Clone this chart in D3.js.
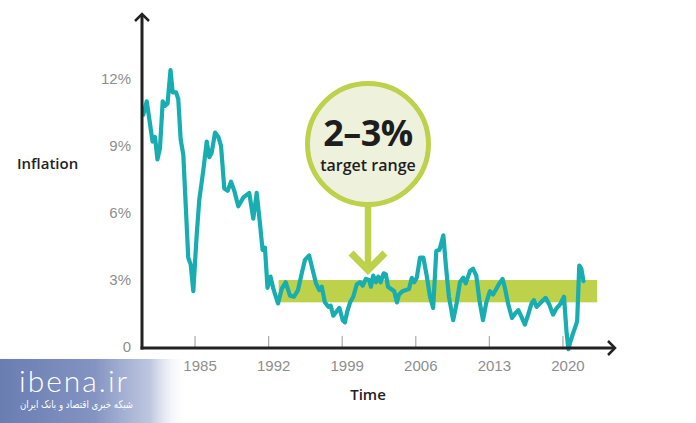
<!DOCTYPE html>
<html>
<head>
<meta charset="utf-8">
<script src="https://cdn.jsdelivr.net/npm/d3@7"></script>
<style>
  html, body { margin: 0; padding: 0; background: #fff; }
  svg { display: block; font-family: "Open Sans", "Noto Sans", sans-serif; }
  .tick-label { fill: #8e8e8e; font-size: 15px; }
  .axis-title { fill: #222; font-size: 15px; font-weight: 600; }
</style>
</head>
<body>
<svg id="chart"></svg>
<script>
// Inflation readings (decimal year, % y/y)
const years = [
  1980.12, 1980.45, 1980.76, 1981.0, 1981.24, 1981.47, 1981.71, 1981.97, 1982.19, 1982.43,
  1982.71, 1982.92, 1983.24, 1983.45, 1983.68, 1983.93, 1984.4, 1984.63, 1984.88, 1985.2,
  1985.45, 1985.83, 1986.16, 1986.4, 1986.63, 1986.95, 1987.27, 1987.52, 1987.83, 1988.15,
  1988.47, 1988.78, 1989.16, 1989.65, 1990.2, 1990.59, 1990.91, 1991.23, 1991.47, 1991.7,
  1991.94, 1992.23, 1992.5, 1992.7, 1992.94, 1993.29, 1993.67, 1994.08, 1994.46, 1994.84,
  1995.2, 1995.5, 1995.9, 1996.24, 1996.55, 1996.87, 1997.1, 1997.4, 1997.73, 1997.95,
  1998.2, 1998.52, 1998.77, 1999.1, 1999.3, 1999.53, 1999.8, 2000.1, 2000.43, 2000.74,
  2001.0, 2001.3, 2001.6, 2001.78, 2002.0, 2002.26, 2002.48, 2002.7, 2003.0, 2003.2,
  2003.4, 2003.7, 2004.0, 2004.25, 2004.45, 2004.8, 2005.1, 2005.4, 2005.67, 2005.9,
  2006.14, 2006.45, 2006.77, 2007.1, 2007.4, 2007.7, 2008.0, 2008.3, 2008.67, 2008.92,
  2009.2, 2009.6, 2009.93, 2010.25, 2010.56, 2010.8, 2011.2, 2011.5, 2011.8, 2012.1,
  2012.44, 2012.76, 2013.1, 2013.4, 2013.7, 2014.0, 2014.3, 2014.5, 2014.85, 2015.2,
  2015.5, 2015.8, 2016.1, 2016.43, 2016.74, 2017.06, 2017.28, 2017.54, 2017.85, 2018.17,
  2018.4, 2018.75, 2019.1, 2019.46, 2019.77, 2020.15, 2020.4, 2020.57, 2020.73, 2021.0,
  2021.4, 2021.6, 2021.8, 2022.0
];
const inflation = [
  10.4, 11.0, 10.0, 9.2, 9.4, 8.4, 8.9, 11.0, 10.8, 10.9,
  12.4, 11.4, 11.4, 11.1, 9.3, 8.6, 4.0, 3.7, 2.5, 5.0,
  6.6, 7.9, 9.2, 8.5, 8.7, 9.6, 9.4, 9.0, 7.1, 7.0,
  7.4, 7.0, 6.3, 6.7, 6.9, 5.75, 6.9, 5.5, 4.35, 4.45,
  2.65, 3.15, 2.6, 2.3, 1.95, 2.6, 2.9, 2.3, 2.25, 2.55,
  3.3, 3.9, 4.1, 3.45, 2.85, 2.55, 2.7, 2.0, 1.8, 1.85,
  1.4, 1.6, 1.75, 1.2, 1.1, 1.6, 2.0, 2.25, 2.8, 2.9,
  2.75, 3.05, 3.0, 2.7, 3.2, 2.9, 3.15, 2.9, 3.3, 3.25,
  2.7, 2.6, 2.5, 2.0, 2.35, 2.5, 2.55, 2.6, 3.1, 2.9,
  3.1, 4.0, 4.0, 3.15, 2.25, 1.75, 4.3, 4.35, 5.0, 3.6,
  2.25, 1.2, 1.95, 2.9, 3.1, 2.85, 3.4, 3.5, 3.2, 2.1,
  1.2, 2.0, 2.5, 2.35, 2.6, 2.85, 3.05, 2.7, 1.9, 1.3,
  1.5, 1.65, 1.35, 1.0, 1.45, 1.95, 2.1, 1.8, 1.95, 2.1,
  2.2, 1.9, 1.45, 1.75, 1.9, 2.25, 0.6, -0.1, 0.2, 0.6,
  1.15, 3.65, 3.5, 2.95
];

const xTickYears = [1985, 1992, 1999, 2006, 2013, 2020];
const yTickValues = [0, 3, 6, 9, 12];
const targetRange = [2, 3];          // % band
const targetYears = [1993, 2023.3];  // band extent

class InflationChart {

  constructor(_config) {
    this.config = {
      parentElement: _config.parentElement,
      containerWidth: _config.containerWidth || 696,
      containerHeight: _config.containerHeight || 423
    };
    this.initVis();
  }

  initVis() {
    let vis = this;

    vis.svg = d3.select(vis.config.parentElement)
        .attr('width', vis.config.containerWidth)
        .attr('height', vis.config.containerHeight);

    // plot spans 1980..2025 on x, 0..15% on y
    vis.xScale = d3.scaleLinear().domain([1980, 2025]).range([142, 615]);
    vis.yScale = d3.scaleLinear().domain([0, 15]).range([347, 12]);

    vis.data = years.map((y, i) => ({ year: y, value: inflation[i] }));

    vis.renderVis();
  }

  renderVis() {
    let vis = this;
    const x = vis.xScale, y = vis.yScale;
    const green = '#bdd14a';

    // target band
    vis.svg.append('rect')
        .attr('x', x(targetYears[0]))
        .attr('y', y(targetRange[1]))
        .attr('width', x(targetYears[1]) - x(targetYears[0]))
        .attr('height', y(targetRange[0]) - y(targetRange[1]))
        .attr('fill', green);

    // x axis ticks + labels
    const xAxis = d3.axisBottom(x)
        .tickValues(xTickYears)
        .tickFormat(d3.format('d'))
        .tickSizeInner(-12)
        .tickSizeOuter(0)
        .tickPadding(12);

    const xAxisG = vis.svg.append('g')
        .attr('transform', `translate(0,${y(0) + 1})`)
        .call(xAxis);
    xAxisG.select('.domain').remove();
    xAxisG.selectAll('line').attr('stroke', '#aaa').attr('stroke-width', 1.2);
    xAxisG.selectAll('text')
        .attr('class', 'tick-label')
        .attr('font-size', null)
        .attr('font-family', null)
        .attr('fill', null)
        .attr('dx', 5);

    // y axis labels
    const yAxis = d3.axisLeft(y)
        .tickValues(yTickValues)
        .tickFormat(d => d === 0 ? '0' : d + '%')
        .tickSize(0)
        .tickPadding(11);

    const yAxisG = vis.svg.append('g')
        .attr('transform', `translate(${x(1980)},0)`)
        .call(yAxis);
    yAxisG.select('.domain').remove();
    yAxisG.selectAll('text')
        .attr('class', 'tick-label')
        .attr('font-size', null)
        .attr('font-family', null)
        .attr('fill', null);

    // inflation line
    const line = d3.line()
        .x(d => x(d.year))
        .y(d => y(d.value));

    vis.svg.append('path')
        .datum(vis.data)
        .attr('d', line)
        .attr('fill', 'none')
        .attr('stroke', '#17adb1')
        .attr('stroke-width', 4.2)
        .attr('stroke-linejoin', 'round')
        .attr('stroke-linecap', 'round');

    // axis lines with open arrow heads
    const axisColor = '#222';
    const x0 = x(1980), yBase = y(0) + 1;
    vis.svg.append('line')
        .attr('x1', x0).attr('x2', x0)
        .attr('y1', yBase + 1.5).attr('y2', 14)
        .attr('stroke', axisColor).attr('stroke-width', 3);
    vis.svg.append('line')
        .attr('x1', x0 - 1.5).attr('x2', 614)
        .attr('y1', yBase).attr('y2', yBase)
        .attr('stroke', axisColor).attr('stroke-width', 3);
    vis.svg.append('path')
        .attr('d', `M${x0 - 7},${21} L${x0},${14} L${x0 + 7},${21}`)
        .attr('fill', 'none').attr('stroke', axisColor).attr('stroke-width', 2.5);
    vis.svg.append('path')
        .attr('d', `M608,${yBase - 7} L615,${yBase} L608,${yBase + 7}`)
        .attr('fill', 'none').attr('stroke', axisColor).attr('stroke-width', 2.5);

    // axis titles
    vis.svg.append('text')
        .attr('class', 'axis-title')
        .attr('x', 17).attr('y', 169)
        .text('Inflation');
    vis.svg.append('text')
        .attr('class', 'axis-title')
        .attr('x', 368).attr('y', 400)
        .attr('text-anchor', 'middle')
        .text('Time');

    // callout bubble
    const cx = 368, cy = 144, r = 60.5;
    const callout = vis.svg.append('g');
    callout.append('line')
        .attr('x1', cx).attr('x2', cx)
        .attr('y1', cy + r).attr('y2', 270)
        .attr('stroke', green).attr('stroke-width', 6.5);
    callout.append('path')
        .attr('d', `M${cx - 17},253 L${cx},270 L${cx + 17},253`)
        .attr('fill', 'none')
        .attr('stroke', green)
        .attr('stroke-width', 7);
    callout.append('circle')
        .attr('cx', cx).attr('cy', cy).attr('r', r)
        .attr('fill', '#eef2dd')
        .attr('stroke', green)
        .attr('stroke-width', 5);
    callout.append('text')
        .attr('x', cx).attr('y', 146)
        .attr('text-anchor', 'middle')
        .attr('font-size', 36).attr('font-weight', 700)
        .attr('fill', '#1e1e1e')
        .attr('letter-spacing', -0.5)
        .text('2–3%');
    callout.append('text')
        .attr('x', cx).attr('y', 171)
        .attr('text-anchor', 'middle')
        .attr('font-size', 16).attr('font-weight', 600)
        .attr('fill', '#1e1e1e')
        .text('target range');

    // watermark
    const grad = vis.svg.append('defs').append('linearGradient')
        .attr('id', 'wm').attr('x1', 0).attr('x2', 1).attr('y1', 0).attr('y2', 0);
    grad.append('stop').attr('offset', 0).attr('stop-color', '#6a7db2').attr('stop-opacity', 1);
    grad.append('stop').attr('offset', 0.5).attr('stop-color', '#8393c2').attr('stop-opacity', 1);
    grad.append('stop').attr('offset', 0.8).attr('stop-color', '#b3bddb').attr('stop-opacity', 0.85);
    grad.append('stop').attr('offset', 1).attr('stop-color', '#ffffff').attr('stop-opacity', 0);
    vis.svg.append('rect')
        .attr('x', 0).attr('y', 359).attr('width', 188).attr('height', 64)
        .attr('fill', 'url(#wm)');
    vis.svg.append('text')
        .attr('x', 19).attr('y', 392)
        .attr('font-family', 'Lato, sans-serif')
        .attr('font-size', 30).attr('font-weight', 300)
        .attr('letter-spacing', 2)
        .attr('fill', '#fff')
        .text('ibena.ir');
    vis.svg.append('text')
        .attr('x', 20).attr('y', 408)
        .attr('font-family', '"DejaVu Sans", sans-serif')
        .attr('font-size', 10.5)
        .attr('textLength', 113)
        .attr('lengthAdjust', 'spacingAndGlyphs')
        .attr('fill', '#fff')
        .text('شبکه خبری اقتصاد و بانک ایران');
  }
}

new InflationChart({ parentElement: '#chart' });
</script>
</body>
</html>
